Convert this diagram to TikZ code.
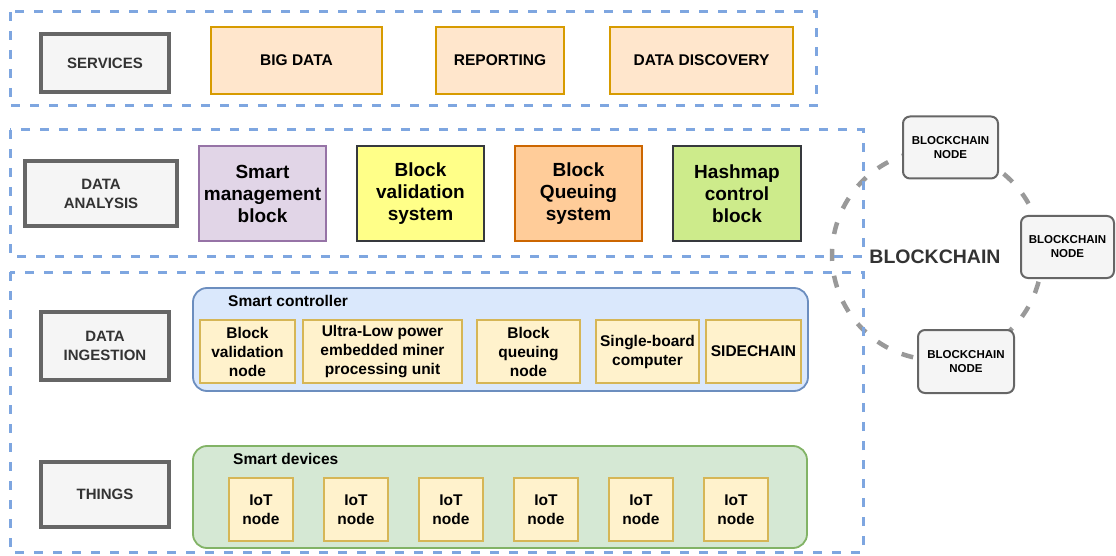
\documentclass[tikz,border=0pt]{standalone}
\usepackage{fontspec}
\setmainfont{Liberation Sans}
\begin{document}
\begin{tikzpicture}[x=1pt,y=-1pt,
  layer/.style={draw={rgb,255:red,126;green,166;blue,224}, line width=3pt, dash pattern=on 9pt off 10pt},
  tier/.style={draw={rgb,255:red,102;green,102;blue,102}, fill={rgb,255:red,245;green,245;blue,245}, line width=3.5pt,
    text={rgb,255:red,51;green,51;blue,51}, font=\fontsize{15}{19}\selectfont\bfseries, align=center, inner sep=0pt},
  svc/.style={draw={rgb,255:red,215;green,155;blue,0}, fill={rgb,255:red,255;green,230;blue,204}, line width=2.6pt,
    font=\fontsize{15.5}{19}\selectfont\bfseries, align=center, inner sep=0pt},
  ana/.style={line width=2.8pt, font=\fontsize{19}{22}\selectfont\bfseries, align=center, inner sep=0pt,
    minimum width=127pt, minimum height=95pt},
  group/.style={rounded corners=14pt, line width=1.8pt},
  part/.style={draw={rgb,255:red,214;green,182;blue,86}, fill={rgb,255:red,255;green,242;blue,204}, line width=1.8pt,
    font=\fontsize{15.5}{19}\selectfont\bfseries, align=center, inner sep=0pt},
  grouptitle/.style={anchor=west, font=\fontsize{15.5}{19}\selectfont\bfseries, inner sep=0pt},
  bcnode/.style={draw={rgb,255:red,102;green,102;blue,102}, fill={rgb,255:red,245;green,245;blue,245}, line width=2pt,
    rounded corners=7pt, font=\fontsize{11.5}{14}\selectfont\bfseries, align=center, inner sep=0pt,
    minimum width=95pt, minimum height=62pt},
  ring/.style={draw={rgb,255:red,153;green,153;blue,153}, line width=4.5pt, dash pattern=on 12pt off 15pt}
]
\useasboundingbox (0,0) rectangle (1116,556);

% blockchain ring (behind everything)
\node[draw=none, circle, minimum size=210pt, inner sep=0pt] (ringc) at (937,255) {};
\draw[ring] (ringc.center) circle[radius=105];
\node[font=\fontsize{19.5}{22}\selectfont\bfseries, text={rgb,255:red,51;green,51;blue,51}] (bclabel) at (935,257) {BLOCKCHAIN};

% layer frames
\draw[layer] (10,12) rectangle (816,106);
\draw[layer] (10,130) rectangle (863,256);
\draw[layer] (10,272) rectangle (863,552);

% services layer
\node[tier, minimum width=128pt, minimum height=58pt] (services) at (105,63) {SERVICES};
\node[svc, minimum width=171pt, minimum height=67pt] (bigdata) at (296.5,60.5) {BIG DATA};
\node[svc, minimum width=128pt, minimum height=67pt] (reporting) at (500,60.5) {REPORTING};
\node[svc, minimum width=183pt, minimum height=67pt] (discovery) at (701.5,60.5) {DATA DISCOVERY};

% data analysis layer
\node[tier, minimum width=152pt, minimum height=65pt] (analysis) at (101,193.5) {DATA\\ANALYSIS};
\node[ana, draw={rgb,255:red,150;green,115;blue,166}, fill={rgb,255:red,225;green,213;blue,231}] (smb) at (262.5,193.5) {Smart\\management\\block};
\node[ana, draw={rgb,255:red,54;green,57;blue,61}, fill={rgb,255:red,255;green,255;blue,136}] (bvs) at (420.5,193.5) {Block\\validation\\system};
\node[ana, draw={rgb,255:red,204;green,102;blue,0}, fill={rgb,255:red,255;green,204;blue,153}] (bqs) at (578.5,193.5) {Block\\Queuing\\system};
\node[ana, draw={rgb,255:red,54;green,57;blue,61}, fill={rgb,255:red,205;green,235;blue,139}, minimum width=128pt] (hcb) at (737,193.5) {Hashmap\\control\\block};

% data ingestion layer
\node[tier, minimum width=128pt, minimum height=68pt] (ingestion) at (105,346) {DATA\\INGESTION};
\draw[group, draw={rgb,255:red,108;green,142;blue,191}, fill={rgb,255:red,218;green,232;blue,252}] (193,288) rectangle (808,391);
\node[grouptitle] (ctrltitle) at (228,301) {Smart controller};
\node[part, minimum width=95pt, minimum height=63pt] (bvn) at (247.5,351.5) {Block\\validation\\node};
\node[part, minimum width=159pt, minimum height=63pt] (ulp) at (382.5,351.5) {Ultra-Low power\\embedded miner\\processing unit};
\node[part, minimum width=103pt, minimum height=63pt] (bqn) at (528.5,351.5) {Block\\queuing\\node};
\node[part, minimum width=103pt, minimum height=63pt] (sbc) at (647.5,351.5) {Single-board\\computer};
\node[part, minimum width=95pt, minimum height=63pt] (side) at (753.5,351.5) {SIDECHAIN};

% things layer
\node[tier, minimum width=128pt, minimum height=65pt] (things) at (105,494.5) {THINGS};
\draw[group, draw={rgb,255:red,130;green,179;blue,102}, fill={rgb,255:red,213;green,232;blue,212}] (193,446) rectangle (807,548);
\node[grouptitle] (devtitle) at (233,459) {Smart devices};
\foreach \i/\cx in {1/261,2/356,3/451,4/546,5/641,6/736}
  \node[part, minimum width=64pt, minimum height=63pt] (iot\i) at (\cx,509.5) {IoT\\node};

% blockchain nodes
\node[bcnode] (bctop) at (950.5,147.5) {BLOCKCHAIN\\NODE};
\node[bcnode, minimum width=93pt] (bcright) at (1067.5,247) {BLOCKCHAIN\\NODE};
\node[bcnode, minimum width=96pt, minimum height=63pt] (bcbottom) at (966,361.5) {BLOCKCHAIN\\NODE};
\end{tikzpicture}
\end{document}
